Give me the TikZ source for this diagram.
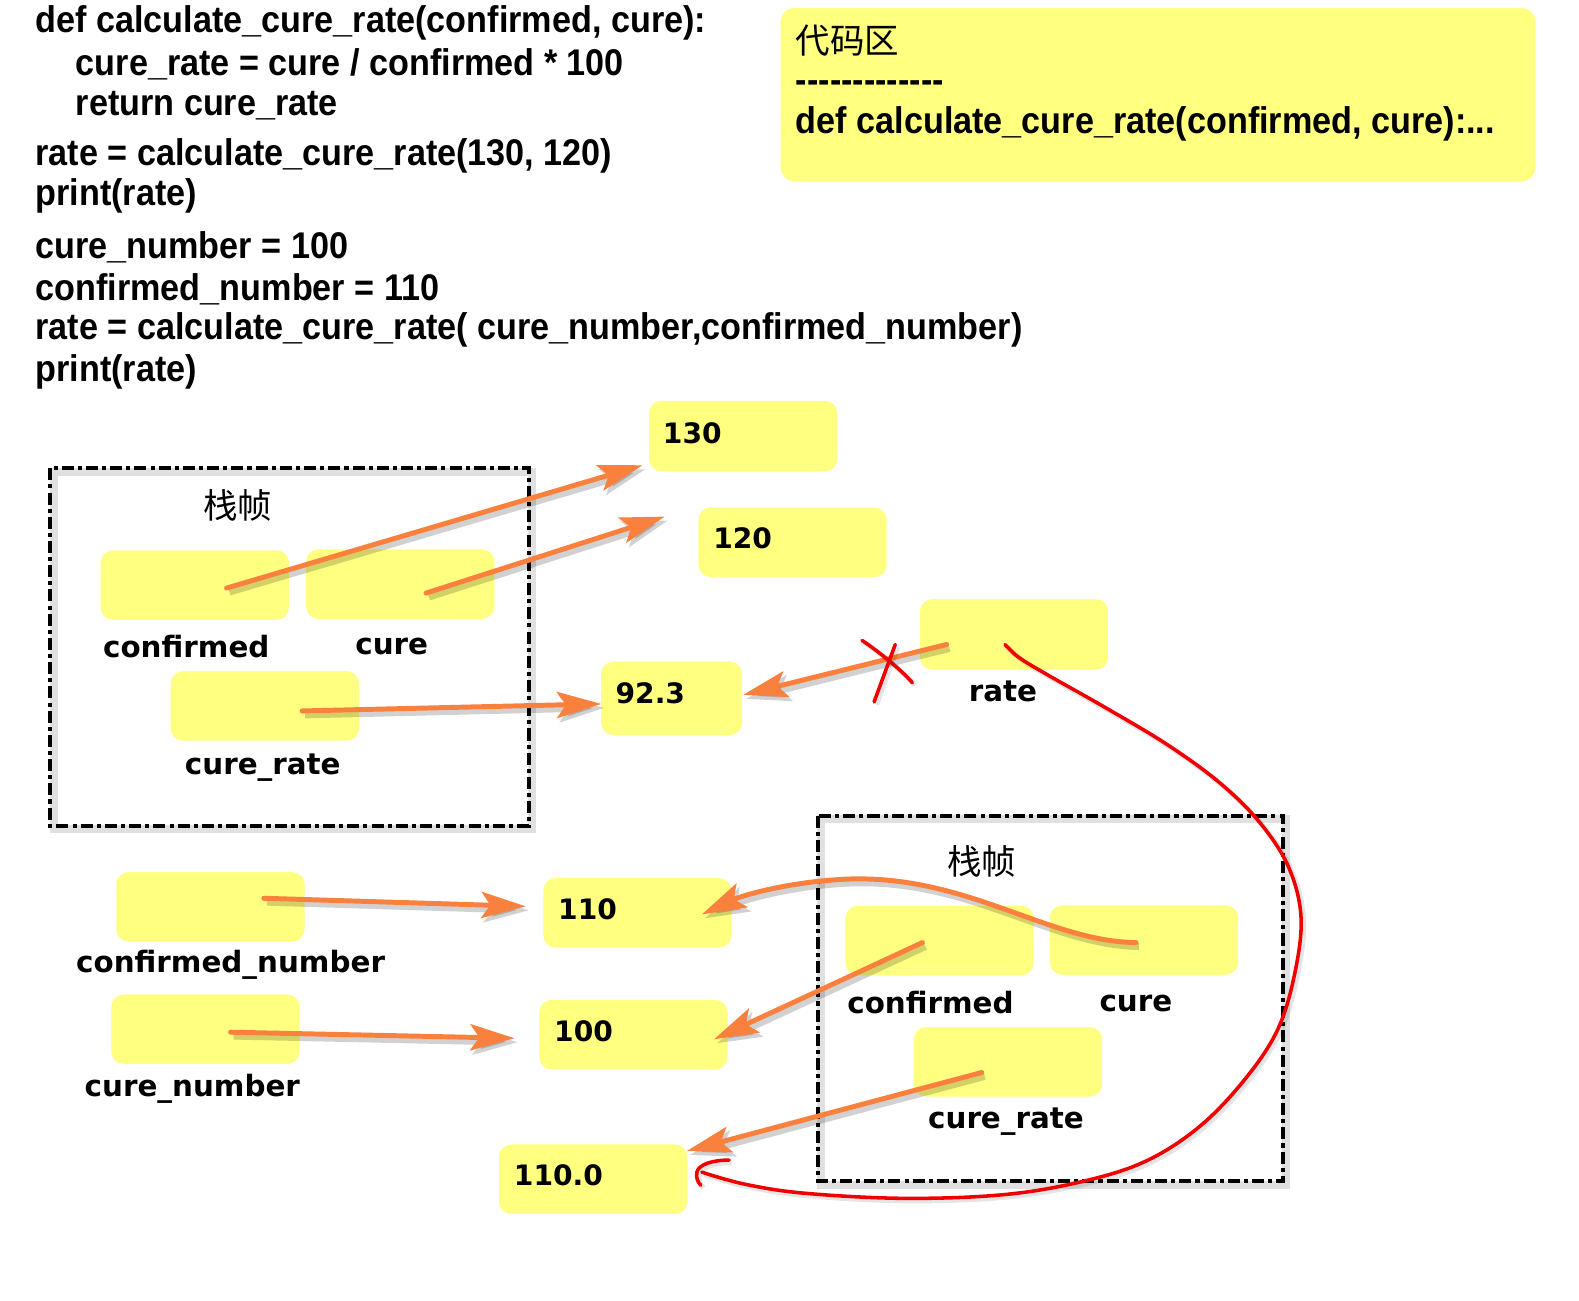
\documentclass[tikz,border=0pt]{standalone}
\usepackage{fontspec}
\usetikzlibrary{arrows.meta}
\setmainfont{Liberation Sans}
\newfontfamily\codefont{Liberation Sans}[FakeStretch=0.92]
\newfontfamily\lblfont{DejaVu Sans}
\newfontfamily\cjkfont{Noto Sans CJK SC}
\definecolor{ylw}{RGB}{255,255,128}
\definecolor{org}{RGB}{250,128,62}
\definecolor{redpen}{RGB}{240,0,0}
\tikzset{
  ybox/.style={fill=ylw, draw=none, rounded corners=7pt, inner sep=0pt,
    minimum width=3.74cm, minimum height=1.38cm},
  code/.style={anchor=west, inner sep=0pt, font=\codefont\bfseries\fontsize{21pt}{25pt}\selectfont},
  lbl/.style={inner sep=0pt, font=\lblfont\bfseries\fontsize{16.6pt}{20pt}\selectfont},
  val/.style={inner sep=0pt, anchor=west, font=\lblfont\bfseries\fontsize{15.9pt}{19pt}\selectfont},
  cjk/.style={inner sep=0pt, font=\cjkfont\fontsize{19.5pt}{22pt}\selectfont},
  frame/.style={line width=2.3pt, dash pattern=on 6.8pt off 2.3pt on 2.3pt off 2.3pt,
    preaction={draw=black, opacity=0.12, line width=4.5pt, solid,
      transform canvas={shift={(0.07cm,-0.07cm)}}}},
  ptr/.style={draw=org, line width=2.8pt, line cap=round,
    -{Stealth[length=0.88cm, width=0.52cm, inset=0.18cm]},
    preaction={draw=black, opacity=0.18, line width=3.8pt,
      transform canvas={shift={(0.06cm,-0.08cm)}}}},
  pen/.style={draw=redpen, line width=2pt, line cap=round, line join=round,
    preaction={draw=black, opacity=0.1, line width=2.8pt,
      transform canvas={shift={(0.05cm,-0.05cm)}}}},
}
\begin{document}
\begin{tikzpicture}[x=0.02cm, y=-0.02cm]
\useasboundingbox (0,0) rectangle (1568,1291);

% program listing
\node[code] (l1) at (35,23)  {def calculate\_cure\_rate(confirmed, cure):};
\node[code] (l2) at (75,64)  {cure\_rate = cure / confirmed * 100};
\node[code] (l3) at (75,105) {return cure\_rate};
\node[code] (l4) at (35,155) {rate = calculate\_cure\_rate(130, 120)};
\node[code] (l5) at (35,195) {print(rate)};
\node[code] (l6) at (35,246) {cure\_number = 100};
\node[code] (l7) at (35,287) {confirmed\_number = 110};
\node[code] (l8) at (35,328) {rate = calculate\_cure\_rate( cure\_number,confirmed\_number)};
\node[code] (l9) at (35,369) {print(rate)};

% code area
\node[ybox, minimum width=15cm, minimum height=3.44cm, rounded corners=8pt] (codearea) at (1150,94) {};
\node[cjk, anchor=west] (cahead) at (790,40) {代码区};
\node[code] (cadash) at (790,86) {-------------};
\node[code] (cadef) at (790,123) {def calculate\_cure\_rate(confirmed, cure):...};

% first call: stack frame
\draw[frame] (50,465) rectangle (525,820);
\node[cjk] (f1title) at (236,502) {栈帧};
\node[ybox] (f1conf) at (193.5,581) {};
\node[ybox] (f1cure) at (397.5,580) {};
\node[ybox] (f1rate) at (263,701) {};
\node[lbl] (f1confl) at (185,642) {confirmed};
\node[lbl] (f1curel) at (389,642) {cure};
\node[lbl] (f1ratel) at (261,762) {cure\_rate};

% values of the first call
\node[ybox, minimum height=1.40cm] (v130) at (738,433) {};
\node[val] (t130) at (658,430) {130};
\node[ybox] (v120) at (787,538.5) {};
\node[val] (t120) at (708,535) {120};
\node[ybox, minimum width=2.8cm, minimum height=1.46cm] (v923) at (667,693.5) {};
\node[val] (t923) at (611,688) {92.3};

% global rate
\node[ybox, minimum height=1.40cm] (rate) at (1007,630) {};
\node[lbl] (ratel) at (996,687) {rate};

% globals of the second call
\node[ybox] (cnum) at (209,900.5) {};
\node[lbl] (cnuml) at (229,958) {confirmed\_number};
\node[ybox] (unum) at (204,1022) {};
\node[lbl] (unuml) at (191,1081) {cure\_number};

\node[ybox] (v110) at (633,906.5) {};
\node[val] (t110) at (554,903) {110};
\node[ybox] (v100) at (629,1027.5) {};
\node[val] (t100) at (550,1024) {100};
\node[ybox] (v1100) at (589,1171) {};
\node[val] (t1100) at (510,1167) {110.0};

% second call: stack frame
\draw[frame] (812,810) rectangle (1274,1173);
\node[cjk] (f2title) at (975,855) {栈帧};
\node[ybox] (f2conf) at (933,934) {};
\node[ybox] (f2cure) at (1136,933.5) {};
\node[ybox] (f2rate) at (1001,1054.5) {};
\node[lbl] (f2confl) at (924,996) {confirmed};
\node[lbl] (f2curel) at (1128,996) {cure};
\node[lbl] (f2ratel) at (999,1114) {cure\_rate};

% reference points for the pointers
\coordinate (s1) at (225,584);   \coordinate (e1) at (638,462);
\coordinate (s2) at (423,589);   \coordinate (e2) at (660,513);
\coordinate (s3) at (300,706);   \coordinate (e3) at (597,699);
\coordinate (s4) at (940,640);   \coordinate (e4) at (738,690);
\coordinate (s5) at (262,892);   \coordinate (e5) at (522,900);
\coordinate (s6) at (229,1025);  \coordinate (e6) at (511,1031);
\coordinate (s7) at (1128,936);  \coordinate (e7) at (697,908);
\coordinate (s8) at (916,936);   \coordinate (e8) at (709,1032);
\coordinate (s9) at (975,1065);  \coordinate (e9) at (682,1143);

% pointers
\draw[ptr] (s1) -- (e1);
\draw[ptr] (s2) -- (e2);
\draw[ptr] (s3) -- (e3);
\draw[ptr] (s4) -- (e4);
\draw[ptr] (s5) -- (e5);
\draw[ptr] (s6) -- (e6);
\draw[ptr] (s7) .. controls (1040,935) and (960,868) .. (840,873)
               .. controls (780,876) and (735,890) .. (e7);
\draw[ptr] (s8) -- (e8);
\draw[ptr] (s9) -- (e9);

% old binding crossed out
\coordinate (x1a) at (856,636); \coordinate (x1b) at (906,678);
\coordinate (x2a) at (889,640); \coordinate (x2b) at (868,697);
\draw[pen] (x1a) .. controls (870,645) and (895,665) .. (x1b);
\draw[pen] (x2a) -- (x2b);

% new binding of rate
\coordinate (r0) at (998,640);
\coordinate (r1) at (697,1164);
\draw[pen] plot[smooth, tension=0.6] coordinates {
  (r0) (1012,653) (1040,670) (1100,704) (1160,740) (1212,778) (1252,818)
  (1280,862) (1292,912) (1285,970) (1268,1024) (1236,1072) (1192,1118)
  (1140,1152) (1080,1172) (1000,1186) (900,1190) (800,1185) (740,1176) (r1)};
\draw[pen] (724,1152) .. controls (708,1152) and (694,1156) .. (692,1164)
           .. controls (691,1170) and (693,1174) .. (696,1177);
\end{tikzpicture}
\end{document}
